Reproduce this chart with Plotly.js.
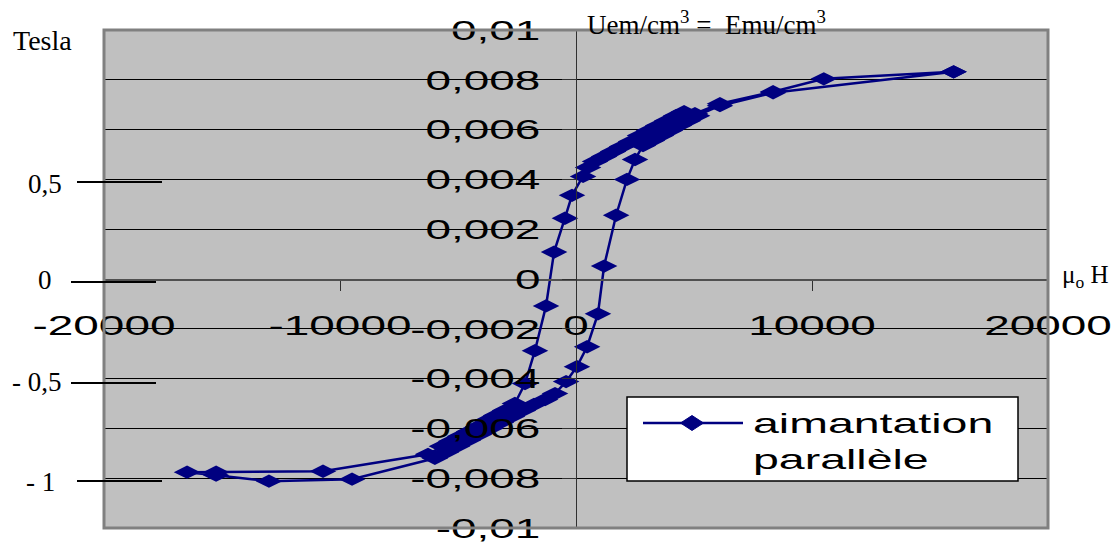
<!DOCTYPE html>
<html>
<head>
<meta charset="utf-8">
<script src="https://cdn.plot.ly/plotly-3.0.1.min.js"></script>
<style>
html,body{margin:0;padding:0;background:#ffffff;}
#chart{width:1120px;height:542px;}
</style>
</head>
<body>
<div id="chart"></div>
<script>
// ---- data ----
// descending branch (from positive saturation to negative saturation)
const descendingH = [16000, 10500, 8350, 6100, 5040, 4580, 4240, 3860, 3480, 3090, 2710, 2330, 1950, 1570, 1190, 805, 510, 300, -170, -470, -930, -1270, -1740, -2160, -2590, -3010, -3390, -3770, -4150, -4530, -4920, -5300, -5680, -6270, -10720, -15250, -16480];
const descendingM = [0.00832, 0.00804, 0.00752, 0.00704, 0.00664, 0.00672, 0.00656, 0.00636, 0.00616, 0.00596, 0.00576, 0.00552, 0.00532, 0.00512, 0.00492, 0.00472, 0.00448, 0.00412, 0.00336, 0.00244, 0.00108, -0.00108, -0.00288, -0.0042, -0.0050, -0.00528, -0.00548, -0.00568, -0.00592, -0.00612, -0.00632, -0.00652, -0.00672, -0.00704, -0.00772, -0.00776, -0.00776];
// ascending branch (back from negative saturation to positive saturation)
const ascendingH = [-15250, -13010, -9490, -5980, -5510, -5040, -4580, -4110, -3640, -3180, -2710, -2250, -1780, -1310, -890, -420, 40, 470, 930, 1190, 1700, 2160, 2500, 2840, 3220, 3600, 3980, 4360, 4750, 5130, 6100, 8350, 16000];
const ascendingM = [-0.00788, -0.00812, -0.00804, -0.0072, -0.00696, -0.00672, -0.00648, -0.00624, -0.0060, -0.00576, -0.00552, -0.00528, -0.00504, -0.00484, -0.0046, -0.00412, -0.00352, -0.00272, -0.0014, 0.00052, 0.00256, 0.0040, 0.0048, 0.00536, 0.00556, 0.00576, 0.00596, 0.00616, 0.00636, 0.00656, 0.00696, 0.00748, 0.00832];

const seriesName = 'aimantation<br>parallèle';

const xTickVals = [-20000, -10000, 0, 10000, 20000];
const xTickText = ['-20000', '-10000', '0', '10000', '20000'];
const yTickVals = [-0.01, -0.008, -0.006, -0.004, -0.002, 0, 0.002, 0.004, 0.006, 0.008, 0.01];
const yTickText = ['-0,01', '-0,008', '-0,006', '-0,004', '-0,002', '0', '0,002', '0,004', '0,006', '0,008', '0,01'];

// secondary (Tesla) scale labels on the left
const teslaLabels = ['0,5', '0', '- 0,5', '- 1'];

// ---- chart ----
const navy = '#000080';
const sans = 'Liberation Sans, Arial, sans-serif';
const serif = 'Liberation Serif, Times New Roman, serif';

const loopH = descendingH.concat(ascendingH);
const loopM = descendingM.concat(ascendingM);

const traces = [{
  type: 'scatter',
  mode: 'lines+markers',
  x: loopH,
  y: loopM,
  name: seriesName,
  line: {color: navy, width: 2.5},
  marker: {symbol: 'diamond-wide', size: 19, color: navy},
  hoverinfo: 'x+y'
}];

// plot area in pixels: x 104..1048, y 30..528
const L = 104, R = 1048, T = 30, B = 528;
const px = v => (v - L) / (R - L);
const py = v => (B - v) / (B - T);

const teslaLabelPos = [[62, 184], [52, 280], [62, 382], [55, 482]];
const teslaLinePos = [[77, 162, 182], [71, 156, 282], [71, 156, 383], [77, 162, 481]];

const shapes = [
  {type: 'rect', xref: 'paper', yref: 'paper', x0: 0, x1: 1, y0: 0, y1: 1,
   line: {color: '#808080', width: 3}, fillcolor: 'rgba(0,0,0,0)', layer: 'above'},
  // legend box
  {type: 'rect', xref: 'paper', yref: 'paper', x0: px(627), x1: px(1018), y0: py(481), y1: py(397),
   line: {color: '#000000', width: 1.5}, fillcolor: '#ffffff', layer: 'above'},
  {type: 'line', xref: 'paper', yref: 'paper', x0: px(643), x1: px(743), y0: py(423), y1: py(423),
   line: {color: navy, width: 2.5}, layer: 'above'},
  {type: 'path', xref: 'paper', yref: 'paper', xsizemode: 'pixel', ysizemode: 'pixel',
   xanchor: px(692), yanchor: py(423), path: 'M-11.5,0 L0,7.5 L11.5,0 L0,-7.5 Z',
   fillcolor: navy, line: {color: navy, width: 1}, layer: 'above'}
];
teslaLinePos.forEach(p => shapes.push({
  type: 'line', xref: 'paper', yref: 'paper', x0: px(p[0]), x1: px(p[1]), y0: py(p[2]), y1: py(p[2]),
  line: {color: '#000000', width: 2}
}));

const annotations = [
  {xref: 'paper', yref: 'paper', x: px(11), y: py(40), xanchor: 'left', yanchor: 'middle', showarrow: false,
   text: 'Tesla', font: {family: serif, size: 28, color: '#000'}},
  {xref: 'paper', yref: 'paper', x: px(585), y: py(23), xanchor: 'left', yanchor: 'middle', showarrow: false,
   text: 'Uem/cm<sup>3</sup> =  Emu/cm<sup>3</sup>', font: {family: serif, size: 27, color: '#000'}},
  {xref: 'paper', yref: 'paper', x: px(1060), y: py(276), xanchor: 'left', yanchor: 'middle', showarrow: false,
   text: 'μ<sub>o</sub> H', font: {family: serif, size: 25, color: '#000'}},
  {xref: 'paper', yref: 'paper', x: px(751), y: py(441), xanchor: 'left', yanchor: 'middle', showarrow: false,
   align: 'left', text: seriesName, font: {family: sans, size: 28, color: '#000'}}
];
teslaLabels.forEach((t, i) => annotations.push({
  xref: 'paper', yref: 'paper', x: px(teslaLabelPos[i][0] + 2), y: py(teslaLabelPos[i][1]),
  xanchor: 'right', yanchor: 'middle', showarrow: false, text: t,
  font: {family: serif, size: 27, color: '#000'}
}));

const layout = {
  width: 1120, height: 542,
  margin: {l: L, r: 1120 - R, t: T, b: 542 - B, pad: 0},
  paper_bgcolor: '#ffffff',
  plot_bgcolor: '#c0c0c0',
  showlegend: false,
  xaxis: {
    range: [-20000, 20000], anchor: 'free', position: 0.5,
    tickmode: 'array', tickvals: xTickVals, ticktext: xTickText,
    showgrid: false, zeroline: false,
    showline: true, linecolor: '#505050', linewidth: 1.5,
    ticks: 'outside', ticklen: 10, tickcolor: '#303030', tickwidth: 1,
    ticklabelstandoff: 11, ticklabeloverflow: 'allow',
    tickfont: {family: sans, size: 28, color: '#000'},
    fixedrange: true
  },
  yaxis: {
    range: [-0.01, 0.01], anchor: 'free', position: 0.5,
    tickmode: 'array', tickvals: yTickVals, ticktext: yTickText,
    showgrid: true, gridcolor: '#000000', gridwidth: 1, zeroline: false,
    showline: true, linecolor: '#303030', linewidth: 1,
    ticks: 'outside', ticklen: 14, tickcolor: '#303030', tickwidth: 1,
    ticklabelstandoff: 16, ticklabeloverflow: 'allow',
    tickfont: {family: sans, size: 28, color: '#000'},
    fixedrange: true
  },
  shapes: shapes,
  annotations: annotations
};

function stretch(el, f) {
  const w = el.getComputedTextLength();
  if (w > 0) {
    el.setAttribute('textLength', (w * f).toFixed(1));
    el.setAttribute('lengthAdjust', 'spacingAndGlyphs');
  }
}

Plotly.newPlot('chart', traces, layout, {displayModeBar: false, staticPlot: true}).then(gd => {
  const f = 1.64;
  gd.querySelectorAll('g.xtick text, g.ytick text').forEach(t => stretch(t, f));
  const ann = gd.querySelectorAll('g.annotation');
  const legendAnn = ann[3];
  if (legendAnn) {
    const txt = legendAnn.querySelector('text.annotation-text');
    const lines = txt.querySelectorAll('tspan.line');
    if (lines.length) lines.forEach(t => stretch(t, 1.66)); else stretch(txt, 1.66);
  }
});
</script>
</body>
</html>
